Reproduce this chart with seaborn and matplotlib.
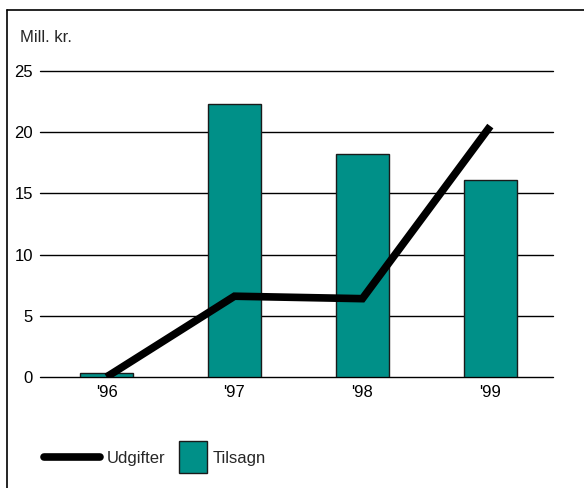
import matplotlib
matplotlib.use("Agg")
import matplotlib.pyplot as plt
import seaborn as sns
from matplotlib.lines import Line2D
from matplotlib.patches import Rectangle

# data
years = ["'96", "'97", "'98", "'99"]
tilsagn = [0.3, 22.3, 18.2, 16.1]
udgifter = [0.0, 6.6, 6.4, 20.5]
teal = "#009088"

sns.set_theme(style="white")
plt.rcParams["font.family"] = ["Liberation Sans", "DejaVu Sans"]
plt.rcParams["font.size"] = 12

W, H = 584, 488
fig = plt.figure(figsize=(W / 100, H / 100), dpi=100)
ax = fig.add_axes([40 / W, 1 - 377 / H, (553 - 40) / W, (377 - 71) / H])

# gridlines behind the bars
for v in range(0, 26, 5):
    ax.axhline(v, color="black", lw=1.0, zorder=0, clip_on=False)

sns.barplot(x=years, y=tilsagn, color=teal, width=0.41, saturation=1,
            edgecolor="#1a1a1a", linewidth=1.0, ax=ax, zorder=2)
sns.lineplot(x=years, y=udgifter, color="black", lw=5.5, ax=ax, zorder=3,
             solid_capstyle="butt", solid_joinstyle="miter", sort=False)

ax.set_xlim(-0.52, 3.49)
ax.set_ylim(0, 25)
ax.set_yticks(range(0, 26, 5))
ax.tick_params(axis="both", length=0, labelsize=12, colors="black")
ax.tick_params(axis="y", pad=5)
ax.tick_params(axis="x", pad=5.5)
ax.set_xlabel("")
ax.set_ylabel("")
for s in ax.spines.values():
    s.set_visible(False)
ax.patch.set_alpha(0)

def fx(px):
    return px / W

def fy(py):
    return 1 - py / H

fig.text(fx(20), fy(38), "Mill. kr.", fontsize=12, va="center", ha="left")

# outer frame (open at right and bottom edges)
fig.add_artist(Line2D([fx(7), fx(7)], [fy(9.5), 0], color="black", lw=1.2))
fig.add_artist(Line2D([fx(7), 1], [fy(9.5), fy(9.5)], color="black", lw=1.2))

# legend
fig.add_artist(Line2D([fx(44), fx(100)], [fy(457), fy(457)], color="black",
                      lw=5.5, solid_capstyle="round"))
fig.text(fx(107), fy(458), "Udgifter", fontsize=12, va="center", ha="left")
fig.add_artist(Rectangle((fx(179), fy(473)), fx(207) - fx(179), fy(441) - fy(473),
                         facecolor=teal, edgecolor="#1a1a1a", lw=1.0))
fig.text(fx(213), fy(458), "Tilsagn", fontsize=12, va="center", ha="left")

fig.savefig("out.png", dpi=100)
